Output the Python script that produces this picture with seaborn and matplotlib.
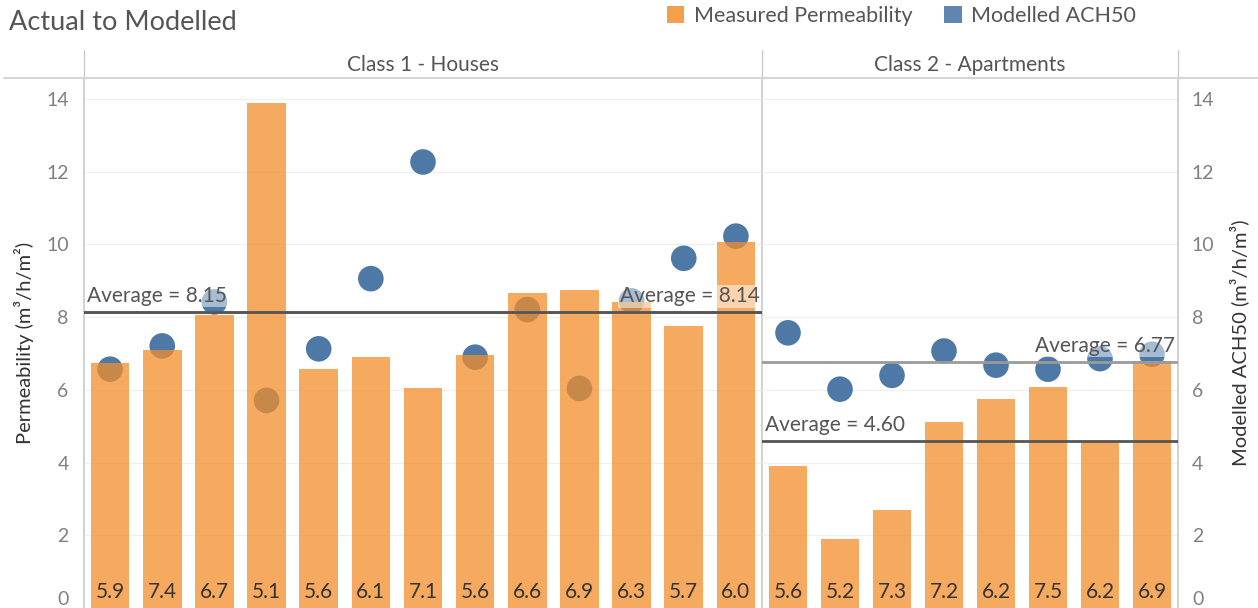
import matplotlib
matplotlib.use("Agg")
import numpy as np
import pandas as pd
import seaborn as sns
import matplotlib.pyplot as plt
from matplotlib.lines import Line2D
from matplotlib.patches import Patch

# ---------------- data ----------------
panel_titles = ["Class 1 - Houses", "Class 2 - Apartments"]

houses_labels = ["5.9", "7.4", "6.7", "5.1", "5.6", "6.1", "7.1", "5.6", "6.6", "6.9", "6.3", "5.7", "6.0"]
houses_perm = [6.75, 7.10, 8.06, 13.90, 6.57, 6.91, 6.04, 6.96, 8.67, 8.74, 8.41, 7.77, 10.07]
houses_ach = [6.57, 7.21, 8.42, 5.71, 7.13, 9.06, 12.27, 6.90, 8.21, 6.04, 8.45, 9.62, 10.23]

apt_labels = ["5.6", "5.2", "7.3", "7.2", "6.2", "7.5", "6.2", "6.9"]
apt_perm = [3.90, 1.90, 2.70, 5.11, 5.76, 6.07, 4.60, 6.79]
apt_ach = [7.57, 6.02, 6.40, 7.07, 6.68, 6.57, 6.86, 6.98]

y_ticks = [0, 2, 4, 6, 8, 10, 12, 14]

# ---------------- style ----------------
sns.set_theme(style="white")
plt.rcParams["font.family"] = ["Lato", "DejaVu Sans"]

ORANGE = "#F28E2B"
BLUE = "#4E79A7"
TXT = "#555555"

W, H = 1258, 608
def fx(px):
    return px / W
def fy(py):
    return 1 - py / H

fig = plt.figure(figsize=(12.58, 6.08), dpi=100)
ax1 = fig.add_axes([fx(84), 0, fx(762) - fx(84), fy(78)])
ax2 = fig.add_axes([fx(762), 0, fx(1178) - fx(762), fy(78)])

panels = [
    (ax1, houses_labels, houses_perm, houses_ach, panel_titles[0]),
    (ax2, apt_labels, apt_perm, apt_ach, panel_titles[1]),
]

YMAX = 14.58
for ax, labels, perm, ach, title in panels:
    n = len(labels)
    df = pd.DataFrame({"pos": np.arange(n), "perm": perm, "ach": ach, "label": labels})
    for yv in y_ticks[1:]:
        ax.axhline(yv, color="#f0f0f0", lw=1, zorder=0)
    sns.barplot(data=df, x="pos", y="perm", color=ORANGE, alpha=0.75, width=0.74,
                saturation=1, linewidth=0, ax=ax, zorder=3)
    sns.scatterplot(data=df, x="pos", y="ach", s=340, color=BLUE, edgecolor="none",
                    ax=ax, zorder=2, legend=False)
    for i, lab in enumerate(df["label"]):
        ax.text(i, 0.44, lab, ha="center", va="center", fontsize=15, color="#333333", zorder=6)

    mp = float(np.mean(perm))
    ma = float(np.mean(ach))
    ax.axhline(ma, color="#9a9a9a", lw=2, zorder=4)
    ax.axhline(mp, color="#555555", lw=2, zorder=4)
    bb = dict(facecolor="white", alpha=0.5, edgecolor="none", pad=1)
    ax.text(-0.45, mp + 0.44, f"Average = {mp:.2f}", ha="left", va="center",
            fontsize=15, color=TXT, zorder=7, bbox=bb)
    ax.text(n - 0.55, ma + 0.44, f"Average = {ma:.2f}", ha="right", va="center",
            fontsize=15, color=TXT, zorder=7, bbox=bb)

    ax.set_xlim(-0.5, n - 0.5)
    ax.set_ylim(0, YMAX)
    ax.set_xticks([])
    ax.set_xlabel("")
    ax.set_yticks(y_ticks)
    ax.set_yticklabels([str(t) for t in y_ticks])
    ax.tick_params(axis="y", length=0, labelsize=14, labelcolor="#808080", pad=11)
    for s in ax.spines.values():
        s.set_visible(False)
    ax.set_facecolor("none")

    bbox = ax.get_position()
    fig.text((bbox.x0 + bbox.x1) / 2, fy(65), title, ha="center", va="center",
             fontsize=15, color=TXT)

ax1.spines["left"].set_visible(True)
ax1.spines["left"].set_color("#cccccc")
ax1.spines["right"].set_visible(True)
ax1.spines["right"].set_color("#cccccc")
ax2.spines["right"].set_visible(True)
ax2.spines["right"].set_color("#cccccc")
ax1.set_ylabel("Permeability (m³/h/m²)", fontsize=14.5, color="#333333", labelpad=9)
ax2.set_ylabel("")
ax2.yaxis.tick_right()
ax2.yaxis.set_label_position("right")
ax2.set_ylabel("Modelled ACH50 (m³/h/m³)", fontsize=14.5, color="#333333", labelpad=11)
ax2.tick_params(axis="y", length=0, labelsize=14, labelcolor="#808080", pad=10)
for ax in (ax1, ax2):
    ax.yaxis.get_major_ticks()[0].label1.set_verticalalignment("bottom")
    ax.yaxis.get_major_ticks()[0].label2.set_verticalalignment("bottom")

# header lines
for px in (84, 762, 1178):
    fig.add_artist(Line2D([fx(px)] * 2, [fy(50), fy(78)], color="#cccccc", lw=1))
fig.add_artist(Line2D([0.003, 1.0], [fy(78)] * 2, color="#d5d5d5", lw=1.5))

fig.text(fx(9), fy(23), "Actual to Modelled", fontsize=19.5, color=TXT, ha="left", va="center")

handles = [Patch(facecolor=ORANGE, alpha=0.85, edgecolor="none", label="Measured Permeability"),
           Patch(facecolor=BLUE, alpha=0.9, edgecolor="none", label="Modelled ACH50")]
fig.legend(handles=handles, loc="center left", bbox_to_anchor=(fx(658), fy(16)), ncol=2,
           frameon=False, fontsize=15.5, handlelength=0.8, handleheight=0.8,
           handletextpad=0.45, columnspacing=1.5, labelcolor=TXT, borderaxespad=0)

fig.savefig("out.png", dpi=100)
